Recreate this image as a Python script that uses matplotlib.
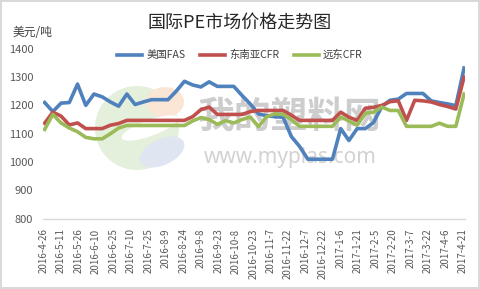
import matplotlib
matplotlib.use("Agg")
import matplotlib.pyplot as plt
import matplotlib.dates as mdates
from matplotlib.patches import Ellipse
import pandas as pd

plt.rcParams['font.family'] = ['Noto Sans CJK SC', 'DejaVu Sans']

title = "国际PE市场价格走势图"
unit = "美元/吨"
series_names = ["美国FAS", "东南亚CFR", "远东CFR"]
colors = ["#4F81BD", "#C0504D", "#9BBB59"]

# weekly observations (52 points), first 2016-04-27, last 2017-04-22
dates = pd.date_range("2016-04-27", "2017-04-22", periods=52)

usa_fas = [1210, 1178, 1208, 1210, 1275, 1200, 1240, 1230, 1212, 1197,
           1240, 1203, 1212, 1220, 1220, 1220, 1250, 1285, 1272, 1265,
           1283, 1267, 1267, 1267, 1235, 1205, 1170, 1163, 1160, 1158,
           1090, 1055, 1010, 1010, 1010, 1010, 1118, 1076, 1118, 1118,
           1140, 1196, 1218, 1222, 1242, 1242, 1242, 1216, 1210, 1205,
           1199, 1332]
sea_cfr = [1137, 1176, 1162, 1131, 1138, 1118, 1118, 1118, 1130, 1136,
           1147, 1147, 1147, 1147, 1147, 1147, 1147, 1147, 1160, 1185,
           1194, 1168, 1168, 1168, 1168, 1178, 1182, 1182, 1182, 1182,
           1165, 1147, 1147, 1147, 1147, 1147, 1176, 1158, 1147, 1190,
           1193, 1200, 1213, 1216, 1147, 1218, 1216, 1212, 1203, 1196,
           1187, 1300]
fe_cfr = [1115, 1168, 1138, 1120, 1107, 1087, 1082, 1082, 1100, 1120,
          1129, 1129, 1129, 1129, 1129, 1129, 1129, 1129, 1145, 1157,
          1150, 1133, 1146, 1138, 1150, 1159, 1125, 1160, 1170, 1168,
          1150, 1126, 1126, 1126, 1126, 1126, 1159, 1145, 1130, 1172,
          1176, 1194, 1182, 1182, 1126, 1126, 1126, 1126, 1137, 1126,
          1126, 1240]

tick_labels = ["2016-4-26", "2016-5-11", "2016-5-26", "2016-6-10", "2016-6-25",
               "2016-7-10", "2016-7-25", "2016-8-9", "2016-8-24", "2016-9-8",
               "2016-9-23", "2016-10-8", "2016-10-23", "2016-11-7", "2016-11-22",
               "2016-12-7", "2016-12-22", "2017-1-6", "2017-1-21", "2017-2-5",
               "2017-2-20", "2017-3-7", "2017-3-22", "2017-4-6", "2017-4-21"]
y_ticks = [800, 900, 1000, 1100, 1200, 1300, 1400]

W, H = 480, 289
fig = plt.figure(figsize=(W / 100, H / 100), dpi=100)
fig.patch.set_facecolor("white")
fig.patch.set_edgecolor("#d9d9d9")
fig.patch.set_linewidth(1.5)

# background watermark layer (pixel coordinates)
bg = fig.add_axes([0, 0, 1, 1], zorder=0)
bg.set_xlim(0, W)
bg.set_ylim(H, 0)
bg.axis("off")
bg.add_patch(Ellipse((137, 128), 84, 84, color="#e4efdc", lw=0))
bg.add_patch(Ellipse((165, 102), 38, 30, color="#fbe6d6", lw=0))
bg.add_patch(Ellipse((162, 152), 48, 26, angle=-25, color="#dfe6f2", lw=0))
bg.add_patch(Ellipse((150, 128), 60, 16, angle=-20, color="white", lw=0))
bg.text(290, 117, "我的塑料网", fontsize=26.5, fontweight="bold", color="#cdcdcd",
        ha="center", va="center")
bg.text(290, 158, "www.myplas.com", fontsize=15, color="#d2d2d2",
        family=["Noto Sans", "DejaVu Sans"], ha="center", va="center")

left, right = 43 / W, 465 / W
bottom, top = 1 - 218.7 / H, 1 - 48.7 / H
ax = fig.add_axes([left, bottom, right - left, top - bottom], zorder=1)
ax.patch.set_alpha(0)

for name, vals, c in zip(series_names, [usa_fas, sea_cfr, fe_cfr], colors):
    ax.plot(dates, vals, color=c, lw=2.6, label=name, solid_joinstyle="round")

ticks = pd.to_datetime(tick_labels, format="%Y-%m-%d")
ax.set_xticks(ticks)
ax.set_xticklabels(tick_labels, rotation=90, fontsize=7, color="#595959")
x0 = mdates.date2num(ticks[0]) - 0.4
x1 = mdates.date2num(dates[-1]) + 0.8
ax.set_xlim(x0, x1)

ax.set_ylim(800, 1400)
ax.set_yticks(y_ticks)
ax.set_yticklabels([str(v) for v in y_ticks], fontsize=8, color="#595959")
ax.tick_params(axis="both", length=0)
ax.tick_params(axis="y", pad=7)
ax.tick_params(axis="x", pad=7)

for s in ["top", "right", "left"]:
    ax.spines[s].set_visible(False)
ax.spines["bottom"].set_color("#d9d9d9")
ax.spines["bottom"].set_linewidth(1)

fig.text(240 / W, 1 - 23 / H, title, fontsize=13, color="#262626",
         ha="center", va="center")
fig.text(13 / W, 1 - 32 / H, unit, fontsize=8.5, color="#404040",
         ha="left", va="center")

fig.legend(loc="center", bbox_to_anchor=(240 / W, 1 - 55 / H), ncol=3,
           frameon=False, fontsize=7.5, handlelength=2.4, handletextpad=0.4,
           columnspacing=1.4, labelcolor="#404040")

fig.savefig("out.png", dpi=100)
